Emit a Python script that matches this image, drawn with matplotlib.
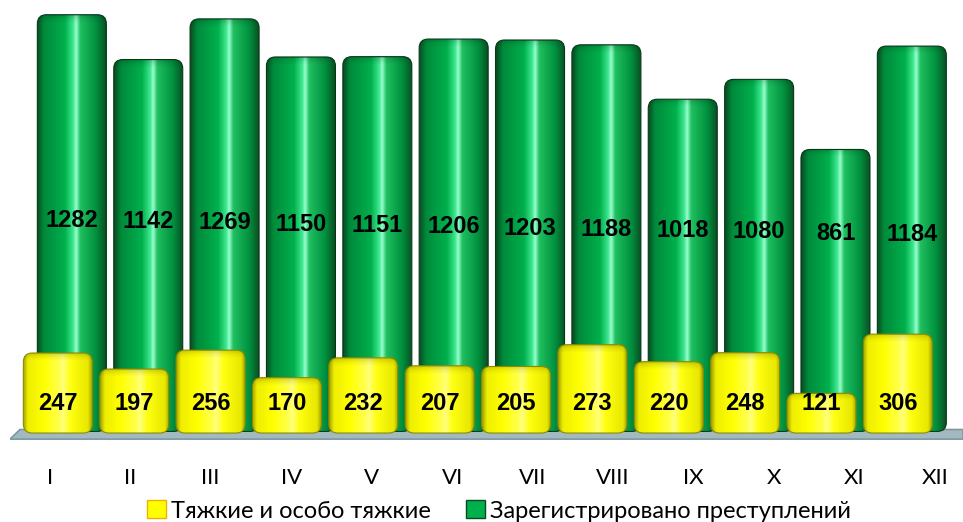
import numpy as np
import matplotlib.pyplot as plt
from matplotlib.colors import LinearSegmentedColormap
from matplotlib.patches import FancyBboxPatch, Polygon, Patch

months = ["I", "II", "III", "IV", "V", "VI", "VII", "VIII", "IX", "X", "XI", "XII"]
registered = [1282, 1142, 1269, 1150, 1151, 1206, 1203, 1188, 1018, 1080, 861, 1184]
grave = [247, 197, 256, 170, 232, 207, 205, 273, 220, 248, 121, 306]

# pixel scale of the original: 76.36 px per category, 0.32 px per unit
px_x = 1 / 76.36
px_y = 1 / 0.32

fig = plt.figure(figsize=(9.63, 5.22), dpi=100)
ax = fig.add_axes([10 / 963, (522 - 442) / 522, 953 / 963, 442 / 522])
ax.set_xlim(-0.81, 11.67)
ax.set_ylim(-53, 1328)
ax.axis("off")

green_cmap = LinearSegmentedColormap.from_list("g", [
    (0.0, "#0a4a1e"), (0.1, "#008a3c"), (0.4, "#00b04c"), (0.52, "#40e890"),
    (0.56, "#9affd0"), (0.62, "#20c060"), (0.85, "#00903e"), (1.0, "#0b4a20")])
yellow_cmap = LinearSegmentedColormap.from_list("y", [
    (0.0, "#a0a000"), (0.07, "#eeee00"), (0.3, "#ffff00"), (0.52, "#ffff50"),
    (0.57, "#ffff80"), (0.68, "#ffff10"), (0.93, "#e8e800"), (1.0, "#9a9a00")])
shade_cmap = LinearSegmentedColormap.from_list("s", [(0, 0, 0, 0.0), (0, 0, 0, 0.22)])
grad = np.linspace(0, 1, 256).reshape(1, -1)
vgrad = np.linspace(0, 1, 32).reshape(-1, 1) ** 2

# floor
floor = Polygon([(-0.81, -44), (-0.68, -14), (11.67, -14), (11.67, -44)],
                closed=True, facecolor="#a3b9c0", edgecolor="#7e97a0", lw=1.2, zorder=1)
ax.add_patch(floor)


def cylinder(x, bottom, height, cmap, edge, z):
    w = 69 * px_x
    r = 9 * px_x
    patch = FancyBboxPatch((x - w / 2, bottom), w, height,
                           boxstyle=f"round,pad=0,rounding_size={r}",
                           mutation_aspect=px_y / px_x,
                           facecolor="none", edgecolor=edge, lw=0.8, zorder=z + 0.2)
    ax.add_patch(patch)
    im = ax.imshow(grad, extent=[x - w / 2, x + w / 2, bottom, bottom + height],
                   aspect="auto", cmap=cmap, zorder=z, interpolation="bilinear")
    im.set_clip_path(patch)
    # soft shade under the rounded top
    shade = ax.imshow(vgrad, extent=[x - w / 2, x + w / 2, bottom + height - 10 * px_y, bottom + height],
                      aspect="auto", cmap=shade_cmap, origin="lower",
                      zorder=z + 0.1, interpolation="bilinear")
    shade.set_clip_path(patch)


for i, v in enumerate(registered):
    cylinder(i, -20, v + 20, green_cmap, "#06381a", 2)
    ax.text(i, 640 - i * 1.3 * px_y, str(v), ha="center", va="center",
            fontsize=17, fontweight="bold", family="Liberation Sans", zorder=10)

for i, v in enumerate(grave):
    xi = i - 14 * px_x
    cylinder(xi, -25, v + 3, yellow_cmap, "#8a8a00", 4)
    ax.text(xi, 66, str(v), ha="center", va="center",
            fontsize=17, fontweight="bold", family="Liberation Sans", zorder=10)

# month labels (spread a little wider than the bars, like the original perspective)
for i, m in enumerate(months):
    ax.text(i * 1.054 - 0.29, -53 - 36 * px_y, m, ha="center", va="center",
            fontsize=16, family="Lato", clip_on=False)

handles = [Patch(facecolor="#ffff00", edgecolor="#f0b000"),
           Patch(facecolor="#00b04c", edgecolor="#0a4a1e")]
fig.legend(handles, ["Тяжкие и особо тяжкие", "Зарегистрировано преступлений"],
           loc="lower center", bbox_to_anchor=(0.518, -0.04), ncol=2, frameon=False,
           prop={"family": "Lato", "size": 17}, handlelength=0.8, handleheight=0.8,
           handletextpad=0.2, columnspacing=1.5)

fig.savefig("out.png", dpi=100)
